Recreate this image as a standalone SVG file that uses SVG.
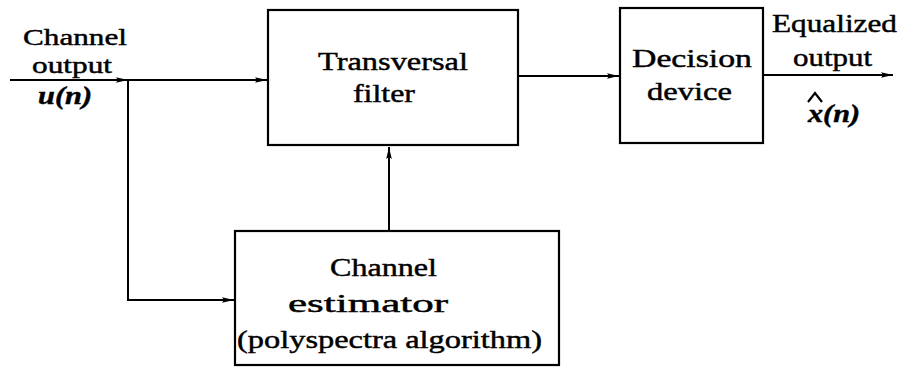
<svg xmlns="http://www.w3.org/2000/svg" width="906" height="368" viewBox="0 0 906 368">
  <style>
    .box { fill: #fff; stroke: #000; stroke-width: 2.2; }
    .wire { fill: none; stroke: #000; stroke-width: 2; }
    .t { font-family: 'Liberation Serif', 'DejaVu Serif', serif; font-size: 26px; fill: #000; stroke: #000; stroke-width: 0.45; }
    .s { font-size: 24px; }
    .i { font-style: italic; font-weight: bold; }
  </style>
  <defs>
    <marker id="ah" viewBox="0 0 12 8" refX="12" refY="4" markerWidth="12" markerHeight="8" markerUnits="userSpaceOnUse" orient="auto">
      <path d="M0,1.2 L12,4 L0,6.8 L2,4 Z" fill="#000"/>
    </marker>
  </defs>
  <rect width="906" height="368" fill="#fff"/>

  <g id="connectors">
    <line class="wire" x1="10" y1="80" x2="128" y2="80" marker-end="url(#ah)"/>
    <line class="wire" x1="128" y1="80" x2="267" y2="80" marker-end="url(#ah)"/>
    <polyline class="wire" points="128,80 128,300 234,300" marker-end="url(#ah)"/>
    <line class="wire" x1="389" y1="231" x2="389" y2="147" marker-end="url(#ah)"/>
    <line class="wire" x1="518" y1="76" x2="619" y2="76" marker-end="url(#ah)"/>
    <line class="wire" x1="763" y1="75" x2="893" y2="75" marker-end="url(#ah)"/>
  </g>

  <g id="input-label">
    <text class="t s" x="23" y="45" textLength="104" lengthAdjust="spacingAndGlyphs">Channel</text>
    <text class="t s" x="32" y="73" textLength="80" lengthAdjust="spacingAndGlyphs">output</text>
    <text class="t i" x="38" y="104" textLength="54" lengthAdjust="spacingAndGlyphs">u(n)</text>
  </g>

  <g id="transversal-filter">
    <rect class="box" x="268" y="10" width="250" height="135"/>
    <text class="t" x="318" y="70" textLength="150" lengthAdjust="spacingAndGlyphs">Transversal</text>
    <text class="t" x="353" y="102" textLength="62" lengthAdjust="spacingAndGlyphs">filter</text>
  </g>

  <g id="decision-device">
    <rect class="box" x="620" y="8" width="143" height="135"/>
    <text class="t" x="632" y="67" textLength="120" lengthAdjust="spacingAndGlyphs">Decision</text>
    <text class="t" x="647" y="100" textLength="85" lengthAdjust="spacingAndGlyphs">device</text>
  </g>

  <g id="output-label">
    <text class="t" x="772" y="32" textLength="125" lengthAdjust="spacingAndGlyphs">Equalized</text>
    <text class="t" x="793" y="66" textLength="79" lengthAdjust="spacingAndGlyphs">output</text>
    <path d="M808,102 L815,93 L822,102" fill="none" stroke="#000" stroke-width="2.2"/>
    <text class="t i" x="808" y="122" textLength="52" lengthAdjust="spacingAndGlyphs">x(n)</text>
  </g>

  <g id="channel-estimator">
    <rect class="box" x="235" y="231" width="324" height="134"/>
    <text class="t" x="330" y="276" textLength="107" lengthAdjust="spacingAndGlyphs">Channel</text>
    <text class="t" x="288" y="312" textLength="160" lengthAdjust="spacingAndGlyphs">estimator</text>
    <text class="t" x="237" y="348" textLength="305" lengthAdjust="spacingAndGlyphs">(polyspectra algorithm)</text>
  </g>
</svg>
